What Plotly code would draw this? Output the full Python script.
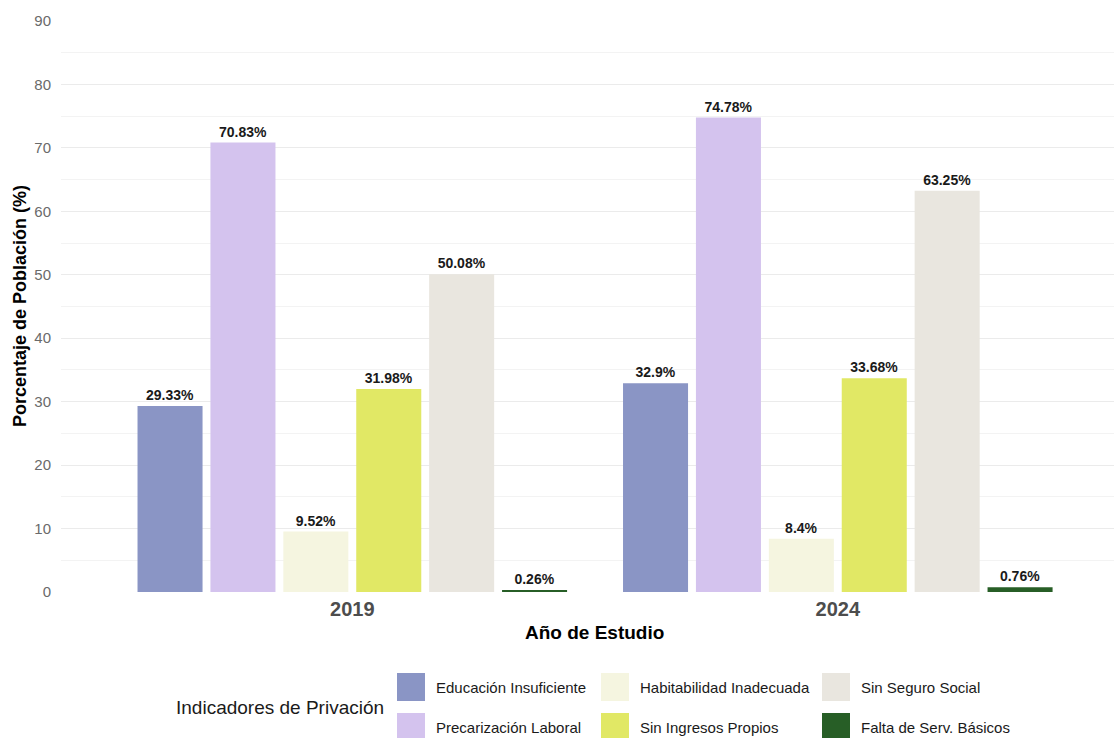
import plotly.graph_objects as go

# Data
years = ["2019", "2024"]
indicators = [
    "Educación Insuficiente",
    "Precarización Laboral",
    "Habitabilidad Inadecuada",
    "Sin Ingresos Propios",
    "Sin Seguro Social",
    "Falta de Serv. Básicos",
]
values = {
    "Educación Insuficiente": [29.33, 32.9],
    "Precarización Laboral": [70.83, 74.78],
    "Habitabilidad Inadecuada": [9.52, 8.4],
    "Sin Ingresos Propios": [31.98, 33.68],
    "Sin Seguro Social": [50.08, 63.25],
    "Falta de Serv. Básicos": [0.26, 0.76],
}
colors = ["#8A95C5", "#D4C3EE", "#F5F5E0", "#E1E865", "#E9E6DF", "#275E26"]
y_ticks = [0, 10, 20, 30, 40, 50, 60, 70, 80, 90]

FONT = "Liberation Sans, Arial, sans-serif"
W, H = 1114, 738
ML, MR, MT, MB = 61, 0, 21, 146
PW, PH = W - ML - MR, H - MT - MB


def px_x(px):
    return (px - ML) / PW


def px_y(py):
    return (H - MB - py) / PH


fig = go.Figure()
for name, col in zip(indicators, colors):
    vals = values[name]
    fig.add_trace(go.Bar(
        name=name,
        x=years,
        y=vals,
        marker=dict(color=col, line=dict(width=0)),
        text=[f"{v:g}%" for v in vals],
        textposition="outside",
        textfont=dict(family=FONT, size=14, color="#1A1A1A", weight="bold"),
        cliponaxis=False,
        showlegend=False,
    ))

# Legend drawn as a 3x2 grid of swatches
legend_cols_swatch = [397, 601, 822]
legend_rows = [687, 727]
annotations = []
shapes = []
for i, (name, col) in enumerate(zip(indicators, colors)):
    c, r = divmod(i, 2)
    sx = legend_cols_swatch[c]
    cy = legend_rows[r]
    shapes.append(dict(
        type="rect", xref="paper", yref="paper",
        x0=px_x(sx), x1=px_x(sx + 28), y0=px_y(cy + 14), y1=px_y(cy - 14),
        fillcolor=col, line=dict(width=0), layer="above",
    ))
    annotations.append(dict(
        text=name, xref="paper", yref="paper",
        x=px_x(sx + 37), y=px_y(cy), xanchor="left", yanchor="middle",
        showarrow=False, font=dict(family=FONT, size=15, color="#1A1A1A"),
    ))

annotations.append(dict(
    text="Indicadores de Privación", xref="paper", yref="paper",
    x=px_x(174), y=px_y(707), xanchor="left", yanchor="middle",
    showarrow=False, font=dict(family=FONT, size=19, color="#1A1A1A"),
))
annotations.append(dict(
    text="<b>Año de Estudio</b>", xref="paper", yref="paper",
    x=px_x(594), y=px_y(632), xanchor="center", yanchor="middle",
    showarrow=False, font=dict(family=FONT, size=19, color="#000000"),
))
annotations.append(dict(
    text="<b>Porcentaje de Población (%)</b>", xref="paper", yref="paper",
    x=px_x(20), y=px_y(306), xanchor="center", yanchor="middle",
    textangle=-90, showarrow=False,
    font=dict(family=FONT, size=18, color="#000000"),
))

fig.update_layout(
    width=W, height=H,
    margin=dict(l=ML, r=MR, t=MT, b=MB, pad=0),
    paper_bgcolor="white", plot_bgcolor="white",
    barmode="group", bargap=0.099, bargroupgap=0.108,
    font=dict(family=FONT),
    shapes=shapes,
    annotations=annotations,
)
fig.update_xaxes(
    type="category", range=[-0.6, -0.6 + PW / 485.5],
    showgrid=False, zeroline=False, showline=False, ticks="",
    tickfont=dict(family=FONT, size=20, color="#4D4D4D", weight="bold"),
    ticklabelstandoff=3,
)
fig.update_yaxes(
    range=[0, 90], tickvals=y_ticks,
    showgrid=True, gridcolor="#EBEBEB", gridwidth=1.2,
    minor=dict(tickvals=[5, 15, 25, 35, 45, 55, 65, 75, 85],
               showgrid=True, gridcolor="#F3F3F3", gridwidth=1),
    zeroline=False, showline=False, ticks="",
    tickfont=dict(family=FONT, size=15, color="#6A6A6A"),
    ticklabelstandoff=9,
)

fig.write_html("out.html")
